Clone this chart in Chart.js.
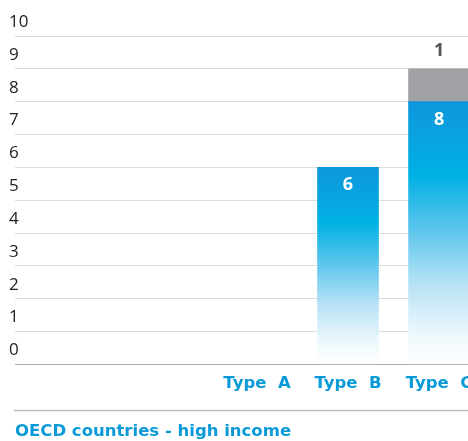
<!DOCTYPE html>
<html>
<head>
<meta charset="utf-8">
<script src="https://cdn.jsdelivr.net/npm/chart.js@4/dist/chart.umd.min.js"></script>
<style>
  html, body { margin: 0; padding: 0; background: #ffffff; overflow: hidden; }
  #wrap { width: 468px; height: 441px; overflow: hidden; }
</style>
</head>
<body>
<div id="wrap"><canvas id="chart" width="490" height="441"></canvas></div>
<script>
// Categories and series
const categories = ['Type  A', 'Type  B', 'Type  C'];
const mainValues = [null, 6, 8];
const otherValues = [null, null, 1];
const yTicks = [0, 1, 2, 3, 4, 5, 6, 7, 8, 9, 10];
const chartTitle = 'OECD countries - high income';

const BLUE_TEXT = '#0a9ad8';
const FONT = '"Open Sans", "Noto Sans", sans-serif';
const HEAD_FONT = '"DejaVu Sans", "Open Sans", sans-serif';

function toPoints(values) {
  return values.map((v, i) => ({ x: i, y: v }));
}

// Vertical fade: deep blue at the bar top, fading to white at the baseline
function barGradient(ctx) {
  const chart = ctx.chart;
  const { chartArea, scales } = chart;
  if (!chartArea || ctx.type !== 'data' || !ctx.raw || ctx.raw.y == null) return '#00a9e2';
  const top = scales.y.getPixelForValue(ctx.raw.y);
  const bottom = scales.y.getPixelForValue(0);
  const g = chart.ctx.createLinearGradient(0, top, 0, bottom);
  g.addColorStop(0, '#0f96dc');
  g.addColorStop(0.28, '#00b1e4');
  g.addColorStop(0.45, '#4cc1eb');
  g.addColorStop(0.7, '#b9e3f6');
  g.addColorStop(0.9, '#f1f9fd');
  g.addColorStop(1, '#ffffff');
  return g;
}

// Value labels: white inside the blue bars, grey above the grey segment
const valueLabels = {
  id: 'valueLabels',
  afterDatasetsDraw(chart) {
    const c = chart.ctx;
    c.save();
    c.font = 'bold 18px ' + FONT;
    c.textAlign = 'center';
    c.textBaseline = 'middle';
    chart.data.datasets.forEach((ds, di) => {
      const meta = chart.getDatasetMeta(di);
      meta.data.forEach((bar, i) => {
        const v = ds.data[i].y;
        if (v == null) return;
        if (di === 0) {
          c.fillStyle = '#ffffff';
          c.fillText(String(v), bar.x, bar.y + 18);
        } else {
          c.fillStyle = '#555555';
          c.fillText(String(v), bar.x, bar.y - 18);
        }
      });
    });
    c.restore();
  }
};

// Rule between the category labels and the chart title
const separator = {
  id: 'separator',
  afterDraw(chart) {
    const c = chart.ctx;
    const y = Math.round(chart.scales.x.bottom) + 8.5;
    c.save();
    c.strokeStyle = '#bdbdbd';
    c.lineWidth = 1.5;
    c.beginPath();
    c.moveTo(chart.chartArea.left - 1, y);
    c.lineTo(chart.width, y);
    c.stroke();
    c.restore();
  }
};

new Chart(document.getElementById('chart'), {
  type: 'bar',
  data: {
    datasets: [
      {
        label: 'main',
        data: toPoints(mainValues),
        backgroundColor: barGradient,
        borderWidth: 0,
        barThickness: 61
      },
      {
        label: 'other',
        data: toPoints(otherValues),
        backgroundColor: '#a0a1a4',
        borderWidth: 0,
        barThickness: 61
      }
    ]
  },
  options: {
    responsive: false,
    animation: false,
    layout: { padding: { left: 15, right: 0, top: 36, bottom: -1 } },
    plugins: {
      legend: { display: false },
      tooltip: { enabled: false },
      title: {
        display: true,
        text: chartTitle,
        position: 'bottom',
        align: 'start',
        color: BLUE_TEXT,
        font: { family: HEAD_FONT, size: 16.5, weight: 'bold' },
        padding: { top: 20, bottom: 0 }
      }
    },
    scales: {
      x: {
        type: 'linear',
        stacked: true,
        offset: false,
        bounds: 'data',
        min: -2.659,
        max: 2.560,
        grid: { display: false, drawTicks: false },
        border: { display: true, color: '#a9a9a9', width: 1 },
        afterBuildTicks(axis) {
          axis.ticks = categories.map((_, i) => ({ value: i }));
        },
        ticks: {
          padding: 9,
          color: BLUE_TEXT,
          font: { family: HEAD_FONT, size: 16.5, weight: 'bold' },
          callback: (v) => categories[v]
        }
      },
      y: {
        stacked: true,
        min: 0,
        max: 10,
        afterBuildTicks(axis) {
          axis.ticks = yTicks.map(v => ({ value: v }));
        },
        grid: { color: '#dcdcdc', lineWidth: 1, drawTicks: false },
        border: { display: false },
        ticks: {
          mirror: true,
          padding: -2,
          labelOffset: -14,
          color: '#222222',
          font: { family: FONT, size: 17 }
        }
      }
    }
  },
  plugins: [valueLabels, separator]
});
</script>
</body>
</html>
